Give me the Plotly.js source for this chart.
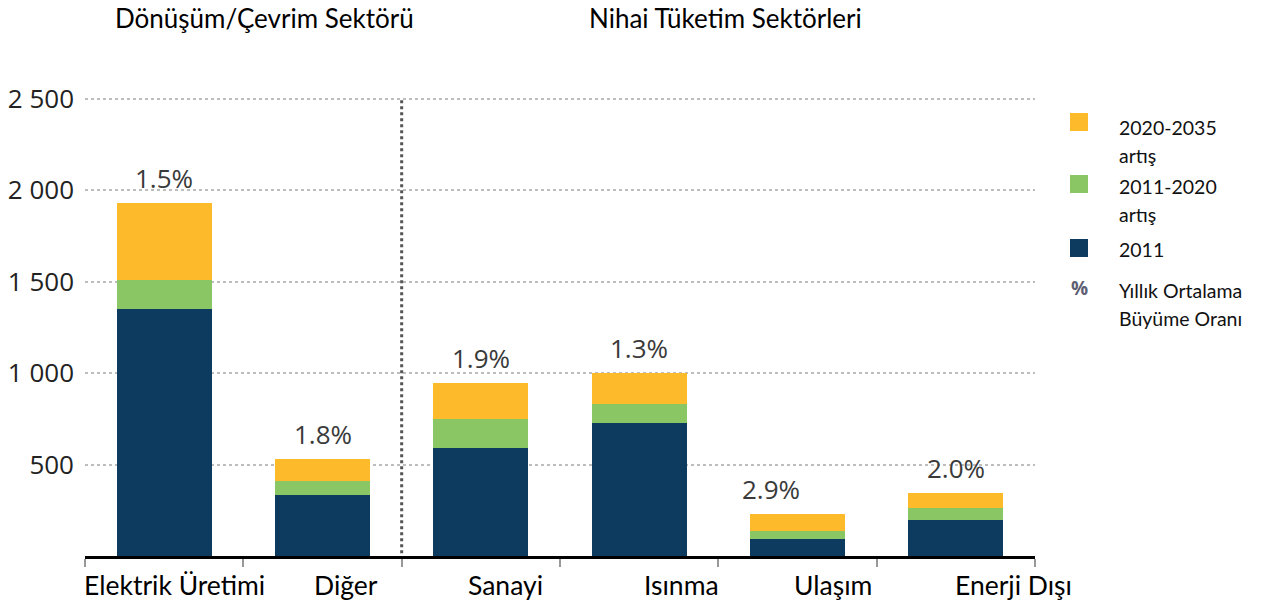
<!DOCTYPE html>
<html>
<head>
<meta charset="utf-8">
<script src="https://cdn.plot.ly/plotly-3.0.1.min.js"></script>
<style>
  html, body { margin: 0; padding: 0; background: #ffffff; }
  #chart { width: 1261px; height: 603px; }
</style>
</head>
<body>
<div id="chart"></div>
<script>
// ---- Data ----
const categories = ["Elektrik Üretimi", "Diğer", "Sanayi", "Isınma", "Ulaşım", "Enerji Dışı"];
const base2011 = [1350, 335, 590, 726, 91, 197];
const inc2011to2020 = [160, 74, 158, 105, 44, 64];
const inc2020to2035 = [420, 120, 200, 170, 96, 85];
const growthRates = ["1.5%", "1.8%", "1.9%", "1.3%", "2.9%", "2.0%"];
const seriesNames = ["2011", "2011-2020<br>artış", "2020-2035<br>artış"];
const yTickVals = [500, 1000, 1500, 2000, 2500];
const yTickText = ["500", "1 000", "1 500", "2 000", "2 500"];
const sectorHeaders = ["Dönüşüm/Çevrim Sektörü", "Nihai Tüketim Sektörleri"];
const growthNote = ["%", "Yıllık Ortalama", "Büyüme Oranı"];

// ---- Styles ----
const colors = ["#0D3A5F", "#8BC665", "#FDBA2B"];
const labelShift = [10, 23, 25, 42, 35, 58];
const rateShift = [0, 0, 0, 0, -27, 0];
const headerX = [0.189, 0.674];
const calibriLike = "Lato, 'Open Sans', sans-serif";
const segoeLike = "'Open Sans', 'Noto Sans', sans-serif";
const plotTop = 97, plotLeft = 85, plotW = 950;
// legend layout (pixel rows)
const legendSquareY = [248, 184, 122];   // per series index (2011, 2011-2020, 2020-2035)
const legendTextY = [249, 186, 127];
const legendLineGap = 28;
const legendSquareX = 1079, legendTextX = 1117;
const noteY = [288, 290];

const seriesValues = [base2011, inc2011to2020, inc2020to2035];
const traces = seriesValues.map((vals, i) => ({
  type: "bar",
  name: seriesNames[i],
  x: categories,
  y: vals,
  marker: { color: colors[i], line: { width: 0 } },
  hoverinfo: "none",
  showlegend: false
}));

const totals = categories.map((c, i) => base2011[i] + inc2011to2020[i] + inc2020to2035[i]);
const px2paperX = px => (px - plotLeft) / plotW;

const annotations = [];
const shapes = [];
categories.forEach((c, i) => {
  annotations.push({
    x: c, y: totals[i], xref: "x", yref: "y",
    text: growthRates[i], showarrow: false,
    xanchor: "center", yanchor: "middle", yshift: 25, xshift: rateShift[i],
    font: { family: segoeLike, size: 26, color: "#3a3a3a" }
  });
  annotations.push({
    x: c, y: 0, xref: "x", yref: "y",
    text: c, showarrow: false,
    xanchor: "center", yanchor: "middle", yshift: -29, xshift: labelShift[i],
    font: { family: calibriLike, size: 26.5, color: "#000000" }
  });
});
sectorHeaders.forEach((h, i) => {
  annotations.push({
    x: headerX[i], y: 1, xref: "paper", yref: "paper",
    text: h, showarrow: false,
    xanchor: "center", yanchor: "middle", yshift: 79,
    font: { family: calibriLike, size: 26, color: "#000000" }
  });
});

// custom legend
seriesNames.forEach((name, i) => {
  shapes.push({
    type: "rect", xref: "paper", yref: "paper",
    xsizemode: "pixel", ysizemode: "pixel",
    xanchor: px2paperX(legendSquareX), yanchor: 1,
    x0: -9, x1: 9, y0: -(legendSquareY[i] - plotTop) - 9, y1: -(legendSquareY[i] - plotTop) + 9,
    fillcolor: colors[i], line: { width: 0 }
  });
  name.split("<br>").forEach((line, k) => {
    annotations.push({
      x: px2paperX(legendTextX), y: 1, xref: "paper", yref: "paper",
      text: line, showarrow: false, xanchor: "left", yanchor: "middle",
      yshift: -(legendTextY[i] + k * legendLineGap - plotTop),
      font: { family: calibriLike, size: 19.5, color: "#111111" }
    });
  });
});
annotations.push({
  x: px2paperX(legendSquareX), y: 1, xref: "paper", yref: "paper",
  text: "<b>" + growthNote[0] + "</b>", showarrow: false, xanchor: "center", yanchor: "middle",
  yshift: -(noteY[0] - plotTop),
  font: { family: segoeLike, size: 19, color: "#5e5e72" }
});
[growthNote[1], growthNote[2]].forEach((line, k) => {
  annotations.push({
    x: px2paperX(legendTextX), y: 1, xref: "paper", yref: "paper",
    text: line, showarrow: false, xanchor: "left", yanchor: "middle",
    yshift: -(noteY[1] + k * legendLineGap - plotTop),
    font: { family: calibriLike, size: 19.5, color: "#111111" }
  });
});

shapes.push({
  type: "line", xref: "x", yref: "y",
  x0: 1.5, x1: 1.5, y0: -50, y1: 2500,
  line: { color: "#555555", width: 3, dash: "dot" }
});

const layout = {
  width: 1261, height: 603,
  margin: { l: plotLeft, r: 1261 - plotLeft - plotW, t: plotTop, b: 47, pad: 0 },
  paper_bgcolor: "#ffffff", plot_bgcolor: "#ffffff",
  barmode: "stack",
  bargap: 0.40,
  showlegend: false,
  xaxis: {
    type: "category",
    range: [-0.5, 5.5], autorange: false,
    showticklabels: false,
    showline: true, linecolor: "#000000", linewidth: 3,
    ticks: "outside", tickson: "boundaries", ticklen: 8, tickwidth: 2, tickcolor: "#999999",
    showgrid: false, zeroline: false, fixedrange: true
  },
  yaxis: {
    range: [0, 2510], autorange: false,
    tickvals: yTickVals, ticktext: yTickText,
    showgrid: true, gridcolor: "#bdbdbd", gridwidth: 2, griddash: "dot",
    zeroline: false, showline: false, ticks: "",
    ticklabelstandoff: 10,
    tickfont: { family: segoeLike, size: 26, color: "#222222" },
    fixedrange: true
  },
  shapes: shapes,
  annotations: annotations
};

Plotly.newPlot("chart", traces, layout, { displayModeBar: false, staticPlot: true });
</script>
</body>
</html>
